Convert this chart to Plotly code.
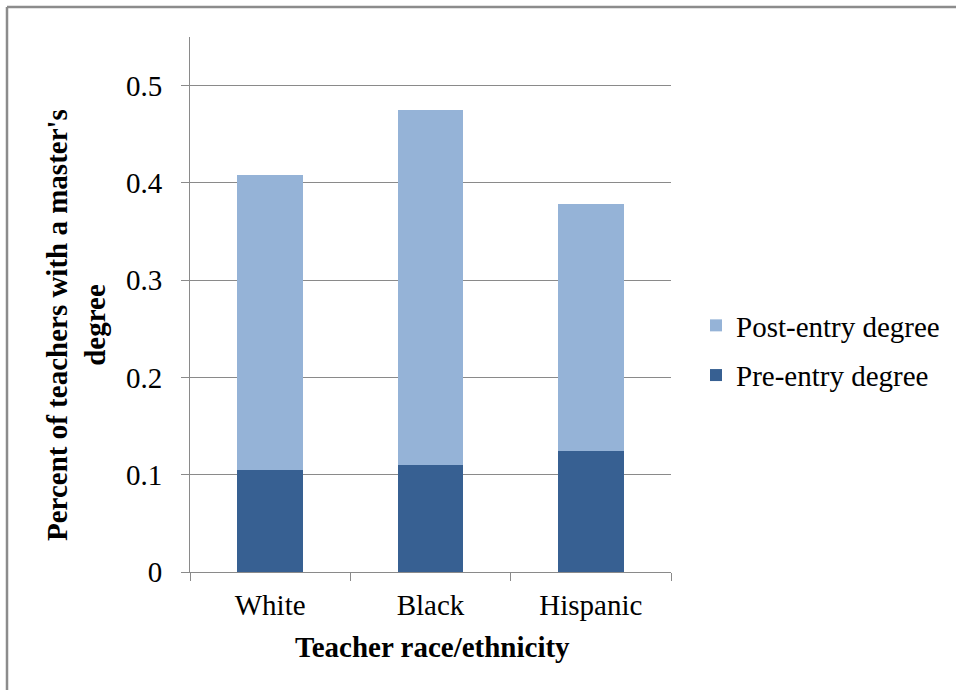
import plotly.graph_objects as go

# Teacher race/ethnicity categories and master's degree shares
categories = ["White", "Black", "Hispanic"]
pre_entry = [0.105, 0.110, 0.124]
post_entry = [0.303, 0.365, 0.254]
y_ticks = [0, 0.1, 0.2, 0.3, 0.4, 0.5]
y_tick_labels = ["0", "0.1", "0.2", "0.3", "0.4", "0.5"]

FONT = "Times New Roman, Liberation Serif, Tinos, DejaVu Serif, serif"
FS = 29
DARK = "#376092"
LIGHT = "#95B3D7"
GRID = "#8a8a8a"

# Plot-area geometry in pixels (956x690 page)
W, H = 956, 690
L, R, T, B = 190, 671, 37, 572
pw, ph = R - L, B - T


def px_x(x):
    return (x - L) / pw


def px_y(y):
    return (B - y) / ph


fig = go.Figure()
fig.add_trace(go.Bar(
    x=categories, y=pre_entry, name="Pre-entry degree",
    marker=dict(color=DARK, line=dict(width=0)), width=0.41,
    legendgroup="pre", legendrank=2,
))
fig.add_trace(go.Bar(
    x=categories, y=post_entry, name="Post-entry degree",
    marker=dict(color=LIGHT, line=dict(width=0)), width=0.41,
    legendgroup="post", legendrank=1,
))

fig.update_layout(
    width=W, height=H,
    barmode="stack",
    paper_bgcolor="white", plot_bgcolor="white",
    margin=dict(l=L, r=W - R, t=T, b=H - B, autoexpand=False),
    font=dict(family=FONT, size=FS, color="black"),
    showlegend=True,
    legend=dict(
        x=px_x(696), y=px_y(300), xanchor="left", yanchor="top",
        traceorder="grouped", tracegroupgap=9,
        font=dict(family=FONT, size=FS, color="black"),
        bgcolor="rgba(0,0,0,0)", itemwidth=30,
    ),
    xaxis=dict(
        showline=True, linecolor=GRID, linewidth=1,
        ticks="outside", ticklen=8, tickcolor=GRID, tickson="boundaries",
        tickfont=dict(family=FONT, size=FS, color="black"),
        ticklabelstandoff=7,
        showgrid=False, zeroline=False,
    ),
    yaxis=dict(
        range=[0, 0.55], tickvals=y_ticks, ticktext=y_tick_labels,
        showline=True, linecolor=GRID, linewidth=1,
        ticks="outside", ticklen=8, tickcolor=GRID,
        tickfont=dict(family=FONT, size=FS, color="black"),
        ticklabelstandoff=13,
        showgrid=True, gridcolor=GRID, gridwidth=1, zeroline=False,
    ),
    annotations=[
        dict(
            text="<b>Percent of teachers with a master's<br>degree</b>",
            textangle=-90, xref="paper", yref="paper",
            x=px_x(76), y=px_y(325), xanchor="center", yanchor="middle",
            showarrow=False, font=dict(family=FONT, size=FS, color="black"),
        ),
        dict(
            text="<b>Teacher race/ethnicity</b>",
            xref="paper", yref="paper",
            x=px_x(432), y=px_y(647), xanchor="center", yanchor="middle",
            showarrow=False, font=dict(family=FONT, size=FS, color="black"),
        ),
    ],
    shapes=[
        dict(type="line", xref="paper", yref="paper",
             x0=px_x(7), x1=px_x(W + 20), y0=px_y(7), y1=px_y(7),
             line=dict(color="#8c8c8c", width=2.5)),
        dict(type="line", xref="paper", yref="paper",
             x0=px_x(7), x1=px_x(7), y0=px_y(7), y1=px_y(H + 20),
             line=dict(color="#8c8c8c", width=2.5)),
    ],
)

fig.write_html("out.html")
